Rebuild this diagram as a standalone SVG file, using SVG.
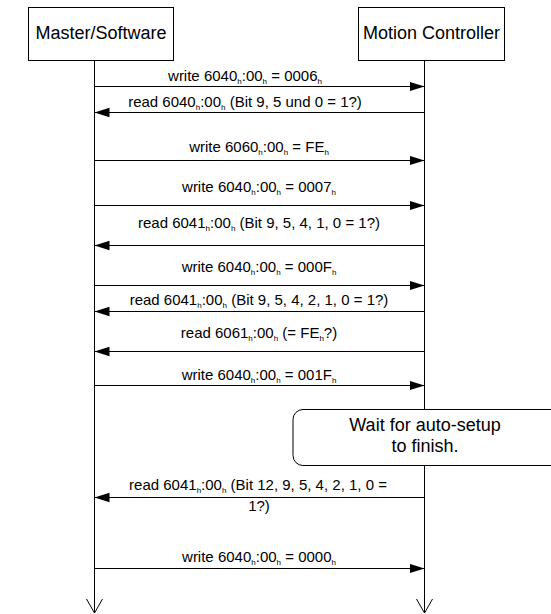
<svg xmlns="http://www.w3.org/2000/svg" width="551" height="614" viewBox="0 0 551 614">
<style>
.box{fill:#fff;stroke:#000;stroke-width:1}
.life{stroke:#000;stroke-width:1;fill:none}
.msg{stroke:#000;stroke-width:1;fill:none}
.t{font-family:"Liberation Sans",Arial,sans-serif;font-size:18px;fill:#000;text-anchor:middle}
.m{font-family:"Liberation Sans",Arial,sans-serif;font-size:15px;fill:#000;text-anchor:middle}
.s{font-size:8px}
</style>
<defs>
<marker id="fa" markerUnits="userSpaceOnUse" markerWidth="16" markerHeight="12" refX="15" refY="6" orient="auto">
<path d="M0,1.3 L15,6 L0,10.7 z" fill="#000"/>
</marker>
<marker id="oa" markerUnits="userSpaceOnUse" markerWidth="16" markerHeight="20" refX="14" refY="8" orient="auto">
<path d="M0,0 L14,8 L0,16" fill="none" stroke="#000" stroke-width="1"/>
</marker>
</defs>

<g id="lifelines">
<line class="life" x1="94.5" y1="60" x2="94.5" y2="613" marker-end="url(#oa)"/>
<line class="life" x1="424.5" y1="60" x2="424.5" y2="613" marker-end="url(#oa)"/>
</g>

<g id="master">
<rect class="box" x="28.5" y="7.5" width="145" height="53"/>
<text class="t" x="101" y="39">Master/Software</text>
</g>
<g id="controller">
<rect class="box" x="358.5" y="7.5" width="146" height="53"/>
<text class="t" x="431.5" y="39">Motion Controller</text>
</g>

<g id="note">
<rect class="box" x="293" y="409.5" width="280" height="56" rx="10" ry="10"/>
<text class="t" x="425" y="431">Wait for auto-setup</text>
<text class="t" x="425" y="452">to finish.</text>
</g>

<g id="connectors">
<line class="msg" x1="94.5" y1="86.5" x2="424.5" y2="86.5" marker-end="url(#fa)"/>
<line class="msg" x1="424.5" y1="112.5" x2="94.5" y2="112.5" marker-end="url(#fa)"/>
<line class="msg" x1="94.5" y1="160.5" x2="424.5" y2="160.5" marker-end="url(#fa)"/>
<line class="msg" x1="94.5" y1="205.5" x2="424.5" y2="205.5" marker-end="url(#fa)"/>
<line class="msg" x1="424.5" y1="245.5" x2="94.5" y2="245.5" marker-end="url(#fa)"/>
<line class="msg" x1="94.5" y1="285.5" x2="424.5" y2="285.5" marker-end="url(#fa)"/>
<line class="msg" x1="424.5" y1="311.5" x2="94.5" y2="311.5" marker-end="url(#fa)"/>
<line class="msg" x1="424.5" y1="351.5" x2="94.5" y2="351.5" marker-end="url(#fa)"/>
<line class="msg" x1="94.5" y1="385.5" x2="424.5" y2="385.5" marker-end="url(#fa)"/>
<line class="msg" x1="424.5" y1="497.5" x2="94.5" y2="497.5" marker-end="url(#fa)"/>
<line class="msg" x1="94.5" y1="568.5" x2="424.5" y2="568.5" marker-end="url(#fa)"/>
</g>

<g id="labels">
<text class="m" x="245" y="81">write 6040<tspan class="s" dy="3">h</tspan><tspan dy="-3">:00</tspan><tspan class="s" dy="3">h</tspan><tspan dy="-3"> = 0006</tspan><tspan class="s" dy="3">h</tspan></text>
<text class="m" x="245" y="107">read 6040<tspan class="s" dy="3">h</tspan><tspan dy="-3">:00</tspan><tspan class="s" dy="3">h</tspan><tspan dy="-3"> (Bit 9, 5 und 0 = 1?)</tspan></text>
<text class="m" x="259" y="152">write 6060<tspan class="s" dy="3">h</tspan><tspan dy="-3">:00</tspan><tspan class="s" dy="3">h</tspan><tspan dy="-3"> = FE</tspan><tspan class="s" dy="3">h</tspan></text>
<text class="m" x="259" y="192">write 6040<tspan class="s" dy="3">h</tspan><tspan dy="-3">:00</tspan><tspan class="s" dy="3">h</tspan><tspan dy="-3"> = 0007</tspan><tspan class="s" dy="3">h</tspan></text>
<text class="m" x="259" y="228">read 6041<tspan class="s" dy="3">h</tspan><tspan dy="-3">:00</tspan><tspan class="s" dy="3">h</tspan><tspan dy="-3"> (Bit 9, 5, 4, 1, 0 = 1?)</tspan></text>
<text class="m" x="259" y="272">write 6040<tspan class="s" dy="3">h</tspan><tspan dy="-3">:00</tspan><tspan class="s" dy="3">h</tspan><tspan dy="-3"> = 000F</tspan><tspan class="s" dy="3">h</tspan></text>
<text class="m" x="259" y="305">read 6041<tspan class="s" dy="3">h</tspan><tspan dy="-3">:00</tspan><tspan class="s" dy="3">h</tspan><tspan dy="-3"> (Bit 9, 5, 4, 2, 1, 0 = 1?)</tspan></text>
<text class="m" x="259" y="338">read 6061<tspan class="s" dy="3">h</tspan><tspan dy="-3">:00</tspan><tspan class="s" dy="3">h</tspan><tspan dy="-3"> (= FE</tspan><tspan class="s" dy="3">h</tspan><tspan dy="-3">?)</tspan></text>
<text class="m" x="259" y="380">write 6040<tspan class="s" dy="3">h</tspan><tspan dy="-3">:00</tspan><tspan class="s" dy="3">h</tspan><tspan dy="-3"> = 001F</tspan><tspan class="s" dy="3">h</tspan></text>
<text class="m" x="258" y="490">read 6041<tspan class="s" dy="3">h</tspan><tspan dy="-3">:00</tspan><tspan class="s" dy="3">h</tspan><tspan dy="-3"> (Bit 12, 9, 5, 4, 2, 1, 0 =</tspan></text>
<text class="m" x="259" y="511">1?)</text>
<text class="m" x="259" y="562">write 6040<tspan class="s" dy="3">h</tspan><tspan dy="-3">:00</tspan><tspan class="s" dy="3">h</tspan><tspan dy="-3"> = 0000</tspan><tspan class="s" dy="3">h</tspan></text>
</g>
</svg>
